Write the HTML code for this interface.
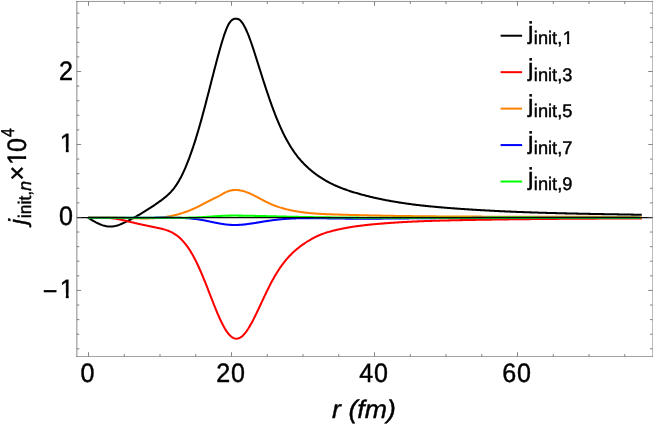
<!DOCTYPE html>
<html><head><meta charset="utf-8"><title>plot</title>
<style>html,body{margin:0;padding:0;background:#fff}body{width:661px;height:424px;overflow:hidden;font-family:"Liberation Sans",sans-serif}svg{will-change:transform}svg text{text-rendering:geometricPrecision}</style>
</head><body>
<svg width="661" height="424" viewBox="0 0 661 424" style="display:block">
<defs><clipPath id="c1_26_7" clipPathUnits="userSpaceOnUse"><rect x="-26.70" y="-26.70" width="80.10" height="21.36"/><rect x="6.40" y="-6.67" width="2.98" height="6.97"/></clipPath><clipPath id="c1_18_2" clipPathUnits="userSpaceOnUse"><rect x="-18.20" y="-18.20" width="54.60" height="14.56"/><rect x="4.27" y="-4.55" width="2.22" height="4.85"/></clipPath></defs><rect x="0" y="0" width="661" height="424" fill="#ffffff"/>
<g fill="none" stroke-width="2.05" stroke-linejoin="round" stroke-linecap="butt">
<path d="M88.00,217.70 L88.79,218.19 L89.58,218.68 L90.38,219.16 L91.17,219.64 L91.96,220.11 L92.75,220.57 L93.55,221.02 L94.34,221.47 L95.13,221.90 L95.92,222.33 L96.72,222.73 L97.51,223.13 L98.30,223.51 L99.09,223.87 L99.88,224.22 L100.68,224.54 L101.47,224.85 L102.26,225.13 L103.05,225.40 L103.85,225.64 L104.64,225.85 L105.43,226.05 L106.22,226.21 L107.01,226.35 L107.81,226.46 L108.60,226.53 L109.39,226.58 L110.18,226.60 L110.98,226.58 L111.77,226.53 L112.56,226.45 L113.35,226.35 L114.15,226.21 L114.94,226.05 L115.73,225.87 L116.52,225.66 L117.31,225.43 L118.11,225.18 L118.90,224.91 L119.69,224.62 L120.48,224.31 L121.28,223.99 L122.07,223.65 L122.86,223.30 L123.65,222.94 L124.44,222.57 L125.24,222.19 L126.03,221.80 L126.82,221.40 L127.61,221.00 L128.41,220.59 L129.20,220.18 L129.99,219.77 L130.78,219.35 L131.58,218.93 L132.37,218.51 L133.16,218.08 L133.95,217.65 L134.74,217.22 L135.54,216.78 L136.33,216.34 L137.12,215.89 L137.91,215.44 L138.71,214.99 L139.50,214.53 L140.29,214.07 L141.08,213.60 L141.87,213.13 L142.67,212.66 L143.46,212.18 L144.25,211.70 L145.04,211.21 L145.84,210.72 L146.63,210.23 L147.42,209.73 L148.21,209.23 L149.01,208.72 L149.80,208.21 L150.59,207.69 L151.38,207.17 L152.17,206.64 L152.97,206.11 L153.76,205.58 L154.55,205.04 L155.34,204.49 L156.14,203.94 L156.93,203.39 L157.72,202.83 L158.51,202.27 L159.30,201.70 L160.10,201.13 L160.89,200.55 L161.68,199.96 L162.47,199.37 L163.27,198.77 L164.06,198.15 L164.85,197.52 L165.64,196.87 L166.44,196.19 L167.23,195.50 L168.02,194.78 L168.81,194.03 L169.60,193.25 L170.40,192.43 L171.19,191.58 L171.98,190.69 L172.77,189.76 L173.57,188.78 L174.36,187.76 L175.15,186.69 L175.94,185.57 L176.73,184.40 L177.53,183.17 L178.32,181.88 L179.11,180.53 L179.90,179.12 L180.70,177.64 L181.49,176.11 L182.28,174.51 L183.07,172.86 L183.87,171.15 L184.66,169.38 L185.45,167.55 L186.24,165.66 L187.03,163.72 L187.83,161.72 L188.62,159.67 L189.41,157.56 L190.20,155.40 L191.00,153.18 L191.79,150.92 L192.58,148.60 L193.37,146.23 L194.16,143.81 L194.96,141.34 L195.75,138.82 L196.54,136.25 L197.33,133.64 L198.13,130.97 L198.92,128.26 L199.71,125.51 L200.50,122.71 L201.30,119.87 L202.09,116.99 L202.88,114.08 L203.67,111.13 L204.46,108.15 L205.26,105.15 L206.05,102.13 L206.84,99.09 L207.63,96.03 L208.43,92.96 L209.22,89.88 L210.01,86.79 L210.80,83.70 L211.59,80.60 L212.39,77.51 L213.18,74.42 L213.97,71.35 L214.76,68.29 L215.56,65.24 L216.35,62.23 L217.14,59.24 L217.93,56.29 L218.73,53.38 L219.52,50.52 L220.31,47.71 L221.10,44.96 L221.89,42.28 L222.69,39.68 L223.48,37.19 L224.27,34.80 L225.06,32.54 L225.86,30.43 L226.65,28.46 L227.44,26.66 L228.23,25.05 L229.02,23.62 L229.82,22.41 L230.61,21.39 L231.40,20.57 L232.19,19.91 L232.99,19.41 L233.78,19.06 L234.57,18.83 L235.36,18.71 L236.16,18.69 L236.95,18.76 L237.74,18.93 L238.53,19.24 L239.32,19.68 L240.12,20.29 L240.91,21.07 L241.70,22.00 L242.49,23.08 L243.29,24.30 L244.08,25.66 L244.87,27.15 L245.66,28.75 L246.45,30.47 L247.25,32.30 L248.04,34.22 L248.83,36.23 L249.62,38.33 L250.42,40.50 L251.21,42.74 L252.00,45.04 L252.79,47.40 L253.59,49.80 L254.38,52.23 L255.17,54.70 L255.96,57.19 L256.75,59.70 L257.55,62.22 L258.34,64.74 L259.13,67.25 L259.92,69.76 L260.72,72.27 L261.51,74.77 L262.30,77.25 L263.09,79.73 L263.88,82.19 L264.68,84.63 L265.47,87.06 L266.26,89.46 L267.05,91.85 L267.85,94.20 L268.64,96.53 L269.43,98.84 L270.22,101.11 L271.02,103.35 L271.81,105.55 L272.60,107.72 L273.39,109.86 L274.18,111.96 L274.98,114.02 L275.77,116.04 L276.56,118.03 L277.35,119.98 L278.15,121.89 L278.94,123.76 L279.73,125.58 L280.52,127.37 L281.32,129.12 L282.11,130.82 L282.90,132.48 L283.69,134.10 L284.48,135.68 L285.28,137.22 L286.07,138.72 L286.86,140.18 L287.65,141.60 L288.45,142.99 L289.24,144.34 L290.03,145.66 L290.82,146.94 L291.61,148.18 L292.41,149.40 L293.20,150.58 L293.99,151.73 L294.78,152.86 L295.58,153.95 L296.37,155.01 L297.16,156.04 L297.95,157.05 L298.75,158.03 L299.54,158.98 L300.33,159.91 L301.12,160.82 L301.91,161.70 L302.71,162.56 L303.50,163.39 L304.29,164.21 L305.08,165.00 L305.88,165.78 L306.67,166.53 L307.46,167.27 L308.25,167.99 L309.04,168.70 L309.84,169.38 L310.63,170.06 L311.42,170.72 L312.21,171.36 L313.01,171.99 L313.80,172.61 L314.59,173.22 L315.38,173.82 L316.18,174.40 L316.97,174.98 L317.76,175.54 L318.55,176.09 L319.34,176.63 L320.14,177.16 L320.93,177.68 L321.72,178.19 L322.51,178.69 L323.31,179.18 L324.10,179.66 L324.89,180.13 L325.68,180.59 L326.47,181.04 L327.27,181.48 L328.06,181.92 L328.85,182.34 L329.64,182.76 L330.44,183.17 L331.23,183.56 L332.02,183.96 L332.81,184.34 L333.61,184.72 L334.40,185.08 L335.19,185.45 L335.98,185.80 L336.77,186.15 L337.57,186.49 L338.36,186.82 L339.15,187.15 L339.94,187.47 L340.74,187.79 L341.53,188.10 L342.32,188.40 L343.11,188.70 L343.90,188.99 L344.70,189.28 L345.49,189.56 L346.28,189.84 L347.07,190.11 L347.87,190.38 L348.66,190.65 L349.45,190.91 L350.24,191.17 L351.04,191.42 L351.83,191.67 L352.62,191.91 L353.41,192.16 L354.20,192.40 L355.00,192.63 L355.79,192.87 L356.58,193.10 L357.37,193.33 L358.17,193.56 L358.96,193.78 L359.75,194.01 L360.54,194.23 L361.33,194.44 L362.13,194.66 L362.92,194.87 L363.71,195.08 L364.50,195.29 L365.30,195.50 L366.09,195.70 L366.88,195.91 L367.67,196.11 L368.47,196.30 L369.26,196.50 L370.05,196.69 L370.84,196.88 L371.63,197.07 L372.43,197.26 L373.22,197.45 L374.01,197.63 L374.80,197.81 L375.60,197.99 L376.39,198.17 L377.18,198.34 L377.97,198.51 L378.76,198.68 L379.56,198.85 L380.35,199.02 L381.14,199.19 L381.93,199.35 L382.73,199.51 L383.52,199.67 L384.31,199.83 L385.10,199.98 L385.90,200.14 L386.69,200.29 L387.48,200.44 L388.27,200.59 L389.06,200.74 L389.86,200.88 L390.65,201.02 L391.44,201.17 L392.23,201.31 L393.03,201.44 L393.82,201.58 L394.61,201.72 L395.40,201.85 L396.19,201.98 L396.99,202.11 L397.78,202.24 L398.57,202.37 L399.36,202.49 L400.16,202.62 L400.95,202.74 L401.74,202.86 L402.53,202.98 L403.33,203.10 L404.12,203.22 L404.91,203.33 L405.70,203.45 L406.49,203.56 L407.29,203.67 L408.08,203.78 L408.87,203.89 L409.66,203.99 L410.46,204.10 L411.25,204.21 L412.04,204.31 L412.83,204.41 L413.62,204.51 L414.42,204.61 L415.21,204.71 L416.00,204.81 L416.79,204.90 L417.59,205.00 L418.38,205.09 L419.17,205.18 L419.96,205.27 L420.76,205.37 L421.55,205.45 L422.34,205.54 L423.13,205.63 L423.92,205.72 L424.72,205.80 L425.51,205.88 L426.30,205.97 L427.09,206.05 L427.89,206.13 L428.68,206.21 L429.47,206.29 L430.26,206.37 L431.05,206.45 L431.85,206.52 L432.64,206.60 L433.43,206.67 L434.22,206.75 L435.02,206.82 L435.81,206.89 L436.60,206.97 L437.39,207.04 L438.19,207.11 L438.98,207.18 L439.77,207.25 L440.56,207.32 L441.35,207.38 L442.15,207.45 L442.94,207.52 L443.73,207.58 L444.52,207.65 L445.32,207.71 L446.11,207.78 L446.90,207.84 L447.69,207.90 L448.48,207.96 L449.28,208.03 L450.07,208.09 L450.86,208.15 L451.65,208.21 L452.45,208.27 L453.24,208.33 L454.03,208.39 L454.82,208.45 L455.62,208.50 L456.41,208.56 L457.20,208.62 L457.99,208.68 L458.78,208.73 L459.58,208.79 L460.37,208.84 L461.16,208.90 L461.95,208.95 L462.75,209.01 L463.54,209.06 L464.33,209.12 L465.12,209.17 L465.92,209.22 L466.71,209.28 L467.50,209.33 L468.29,209.38 L469.08,209.43 L469.88,209.48 L470.67,209.53 L471.46,209.58 L472.25,209.63 L473.05,209.68 L473.84,209.73 L474.63,209.78 L475.42,209.83 L476.21,209.87 L477.01,209.92 L477.80,209.97 L478.59,210.02 L479.38,210.06 L480.18,210.11 L480.97,210.15 L481.76,210.20 L482.55,210.24 L483.35,210.29 L484.14,210.33 L484.93,210.38 L485.72,210.42 L486.51,210.46 L487.31,210.51 L488.10,210.55 L488.89,210.59 L489.68,210.63 L490.48,210.67 L491.27,210.72 L492.06,210.76 L492.85,210.80 L493.64,210.84 L494.44,210.88 L495.23,210.92 L496.02,210.96 L496.81,210.99 L497.61,211.03 L498.40,211.07 L499.19,211.11 L499.98,211.15 L500.78,211.18 L501.57,211.22 L502.36,211.26 L503.15,211.29 L503.94,211.33 L504.74,211.37 L505.53,211.40 L506.32,211.44 L507.11,211.47 L507.91,211.51 L508.70,211.54 L509.49,211.57 L510.28,211.61 L511.07,211.64 L511.87,211.67 L512.66,211.71 L513.45,211.74 L514.24,211.77 L515.04,211.80 L515.83,211.84 L516.62,211.87 L517.41,211.90 L518.21,211.93 L519.00,211.96 L519.79,211.99 L520.58,212.02 L521.37,212.05 L522.17,212.08 L522.96,212.11 L523.75,212.14 L524.54,212.17 L525.34,212.20 L526.13,212.23 L526.92,212.25 L527.71,212.28 L528.50,212.31 L529.30,212.34 L530.09,212.36 L530.88,212.39 L531.67,212.42 L532.47,212.44 L533.26,212.47 L534.05,212.50 L534.84,212.52 L535.64,212.55 L536.43,212.57 L537.22,212.60 L538.01,212.62 L538.80,212.65 L539.60,212.67 L540.39,212.70 L541.18,212.72 L541.97,212.74 L542.77,212.77 L543.56,212.79 L544.35,212.82 L545.14,212.84 L545.93,212.86 L546.73,212.88 L547.52,212.91 L548.31,212.93 L549.10,212.95 L549.90,212.97 L550.69,212.99 L551.48,213.02 L552.27,213.04 L553.07,213.06 L553.86,213.08 L554.65,213.10 L555.44,213.12 L556.23,213.14 L557.03,213.16 L557.82,213.18 L558.61,213.20 L559.40,213.22 L560.20,213.24 L560.99,213.26 L561.78,213.28 L562.57,213.30 L563.36,213.32 L564.16,213.34 L564.95,213.36 L565.74,213.37 L566.53,213.39 L567.33,213.41 L568.12,213.43 L568.91,213.45 L569.70,213.47 L570.50,213.48 L571.29,213.50 L572.08,213.52 L572.87,213.54 L573.66,213.55 L574.46,213.57 L575.25,213.59 L576.04,213.60 L576.83,213.62 L577.63,213.64 L578.42,213.65 L579.21,213.67 L580.00,213.69 L580.79,213.70 L581.59,213.72 L582.38,213.74 L583.17,213.75 L583.96,213.77 L584.76,213.78 L585.55,213.80 L586.34,213.81 L587.13,213.83 L587.93,213.84 L588.72,213.86 L589.51,213.87 L590.30,213.89 L591.09,213.90 L591.89,213.92 L592.68,213.93 L593.47,213.95 L594.26,213.96 L595.06,213.98 L595.85,213.99 L596.64,214.01 L597.43,214.02 L598.22,214.04 L599.02,214.05 L599.81,214.06 L600.60,214.08 L601.39,214.09 L602.19,214.11 L602.98,214.12 L603.77,214.13 L604.56,214.15 L605.36,214.16 L606.15,214.18 L606.94,214.19 L607.73,214.20 L608.52,214.22 L609.32,214.23 L610.11,214.24 L610.90,214.26 L611.69,214.27 L612.49,214.29 L613.28,214.30 L614.07,214.31 L614.86,214.33 L615.65,214.34 L616.45,214.35 L617.24,214.37 L618.03,214.38 L618.82,214.39 L619.62,214.41 L620.41,214.42 L621.20,214.43 L621.99,214.45 L622.79,214.46 L623.58,214.47 L624.37,214.49 L625.16,214.50 L625.95,214.51 L626.75,214.53 L627.54,214.54 L628.33,214.55 L629.12,214.57 L629.92,214.58 L630.71,214.59 L631.50,214.61 L632.29,214.62 L633.08,214.63 L633.88,214.65 L634.67,214.66 L635.46,214.67 L636.25,214.69 L637.05,214.70 L637.84,214.71 L638.63,214.73 L639.42,214.74 L640.22,214.76 L641.01,214.77 L641.80,214.78" stroke="#000000"/>
<path d="M88.00,217.70 L88.79,217.71 L89.58,217.72 L90.38,217.73 L91.17,217.73 L91.96,217.73 L92.75,217.73 L93.55,217.72 L94.34,217.72 L95.13,217.71 L95.92,217.71 L96.72,217.70 L97.51,217.69 L98.30,217.69 L99.09,217.68 L99.88,217.68 L100.68,217.68 L101.47,217.69 L102.26,217.69 L103.05,217.70 L103.85,217.72 L104.64,217.74 L105.43,217.76 L106.22,217.79 L107.01,217.83 L107.81,217.87 L108.60,217.92 L109.39,217.97 L110.18,218.04 L110.98,218.11 L111.77,218.19 L112.56,218.28 L113.35,218.38 L114.15,218.49 L114.94,218.60 L115.73,218.73 L116.52,218.86 L117.31,219.00 L118.11,219.14 L118.90,219.29 L119.69,219.45 L120.48,219.61 L121.28,219.78 L122.07,219.95 L122.86,220.13 L123.65,220.30 L124.44,220.49 L125.24,220.67 L126.03,220.86 L126.82,221.05 L127.61,221.24 L128.41,221.44 L129.20,221.63 L129.99,221.83 L130.78,222.02 L131.58,222.22 L132.37,222.41 L133.16,222.60 L133.95,222.79 L134.74,222.98 L135.54,223.17 L136.33,223.36 L137.12,223.54 L137.91,223.72 L138.71,223.90 L139.50,224.08 L140.29,224.25 L141.08,224.43 L141.87,224.60 L142.67,224.77 L143.46,224.94 L144.25,225.11 L145.04,225.28 L145.84,225.45 L146.63,225.61 L147.42,225.78 L148.21,225.94 L149.01,226.11 L149.80,226.27 L150.59,226.43 L151.38,226.59 L152.17,226.75 L152.97,226.92 L153.76,227.08 L154.55,227.24 L155.34,227.40 L156.14,227.56 L156.93,227.72 L157.72,227.89 L158.51,228.05 L159.30,228.22 L160.10,228.39 L160.89,228.57 L161.68,228.76 L162.47,228.96 L163.27,229.16 L164.06,229.38 L164.85,229.61 L165.64,229.86 L166.44,230.12 L167.23,230.39 L168.02,230.69 L168.81,231.00 L169.60,231.33 L170.40,231.68 L171.19,232.06 L171.98,232.46 L172.77,232.89 L173.57,233.34 L174.36,233.82 L175.15,234.33 L175.94,234.86 L176.73,235.43 L177.53,236.03 L178.32,236.67 L179.11,237.33 L179.90,238.04 L180.70,238.77 L181.49,239.55 L182.28,240.36 L183.07,241.22 L183.87,242.11 L184.66,243.04 L185.45,244.02 L186.24,245.04 L187.03,246.10 L187.83,247.21 L188.62,248.36 L189.41,249.56 L190.20,250.81 L191.00,252.10 L191.79,253.43 L192.58,254.81 L193.37,256.24 L194.16,257.71 L194.96,259.23 L195.75,260.79 L196.54,262.39 L197.33,264.04 L198.13,265.72 L198.92,267.45 L199.71,269.22 L200.50,271.02 L201.30,272.86 L202.09,274.73 L202.88,276.63 L203.67,278.55 L204.46,280.50 L205.26,282.47 L206.05,284.46 L206.84,286.47 L207.63,288.49 L208.43,290.52 L209.22,292.56 L210.01,294.61 L210.80,296.65 L211.59,298.69 L212.39,300.72 L213.18,302.74 L213.97,304.75 L214.76,306.73 L215.56,308.69 L216.35,310.62 L217.14,312.52 L217.93,314.38 L218.73,316.21 L219.52,317.98 L220.31,319.72 L221.10,321.40 L221.89,323.02 L222.69,324.58 L223.48,326.08 L224.27,327.51 L225.06,328.87 L225.86,330.16 L226.65,331.36 L227.44,332.48 L228.23,333.51 L229.02,334.45 L229.82,335.30 L230.61,336.05 L231.40,336.71 L232.19,337.27 L232.99,337.74 L233.78,338.11 L234.57,338.39 L235.36,338.58 L236.16,338.66 L236.95,338.66 L237.74,338.55 L238.53,338.35 L239.32,338.06 L240.12,337.67 L240.91,337.18 L241.70,336.60 L242.49,335.92 L243.29,335.16 L244.08,334.32 L244.87,333.39 L245.66,332.39 L246.45,331.32 L247.25,330.18 L248.04,328.98 L248.83,327.72 L249.62,326.40 L250.42,325.03 L251.21,323.62 L252.00,322.16 L252.79,320.66 L253.59,319.13 L254.38,317.57 L255.17,315.98 L255.96,314.36 L256.75,312.72 L257.55,311.06 L258.34,309.39 L259.13,307.70 L259.92,306.01 L260.72,304.31 L261.51,302.61 L262.30,300.91 L263.09,299.22 L263.88,297.54 L264.68,295.86 L265.47,294.20 L266.26,292.55 L267.05,290.92 L267.85,289.30 L268.64,287.71 L269.43,286.13 L270.22,284.58 L271.02,283.05 L271.81,281.55 L272.60,280.08 L273.39,278.64 L274.18,277.23 L274.98,275.85 L275.77,274.51 L276.56,273.20 L277.35,271.93 L278.15,270.68 L278.94,269.47 L279.73,268.29 L280.52,267.14 L281.32,266.02 L282.11,264.93 L282.90,263.87 L283.69,262.83 L284.48,261.83 L285.28,260.84 L286.07,259.89 L286.86,258.96 L287.65,258.05 L288.45,257.17 L289.24,256.31 L290.03,255.47 L290.82,254.66 L291.61,253.87 L292.41,253.09 L293.20,252.34 L293.99,251.61 L294.78,250.89 L295.58,250.20 L296.37,249.52 L297.16,248.86 L297.95,248.21 L298.75,247.58 L299.54,246.96 L300.33,246.36 L301.12,245.77 L301.91,245.20 L302.71,244.64 L303.50,244.09 L304.29,243.55 L305.08,243.02 L305.88,242.50 L306.67,241.99 L307.46,241.49 L308.25,241.00 L309.04,240.51 L309.84,240.04 L310.63,239.57 L311.42,239.12 L312.21,238.67 L313.01,238.24 L313.80,237.82 L314.59,237.40 L315.38,237.01 L316.18,236.62 L316.97,236.25 L317.76,235.88 L318.55,235.53 L319.34,235.20 L320.14,234.87 L320.93,234.55 L321.72,234.24 L322.51,233.95 L323.31,233.66 L324.10,233.38 L324.89,233.11 L325.68,232.85 L326.47,232.60 L327.27,232.35 L328.06,232.11 L328.85,231.88 L329.64,231.66 L330.44,231.44 L331.23,231.23 L332.02,231.02 L332.81,230.81 L333.61,230.62 L334.40,230.42 L335.19,230.23 L335.98,230.04 L336.77,229.86 L337.57,229.68 L338.36,229.50 L339.15,229.33 L339.94,229.16 L340.74,228.99 L341.53,228.83 L342.32,228.67 L343.11,228.51 L343.90,228.35 L344.70,228.20 L345.49,228.05 L346.28,227.91 L347.07,227.76 L347.87,227.62 L348.66,227.48 L349.45,227.35 L350.24,227.22 L351.04,227.09 L351.83,226.96 L352.62,226.84 L353.41,226.71 L354.20,226.59 L355.00,226.48 L355.79,226.36 L356.58,226.25 L357.37,226.14 L358.17,226.03 L358.96,225.92 L359.75,225.82 L360.54,225.72 L361.33,225.61 L362.13,225.52 L362.92,225.42 L363.71,225.33 L364.50,225.23 L365.30,225.14 L366.09,225.05 L366.88,224.96 L367.67,224.88 L368.47,224.79 L369.26,224.71 L370.05,224.63 L370.84,224.55 L371.63,224.47 L372.43,224.39 L373.22,224.32 L374.01,224.24 L374.80,224.17 L375.60,224.10 L376.39,224.03 L377.18,223.96 L377.97,223.89 L378.76,223.82 L379.56,223.75 L380.35,223.68 L381.14,223.62 L381.93,223.55 L382.73,223.49 L383.52,223.43 L384.31,223.36 L385.10,223.30 L385.90,223.24 L386.69,223.18 L387.48,223.12 L388.27,223.06 L389.06,223.01 L389.86,222.95 L390.65,222.89 L391.44,222.84 L392.23,222.78 L393.03,222.73 L393.82,222.68 L394.61,222.62 L395.40,222.57 L396.19,222.52 L396.99,222.47 L397.78,222.42 L398.57,222.37 L399.36,222.32 L400.16,222.28 L400.95,222.23 L401.74,222.18 L402.53,222.14 L403.33,222.09 L404.12,222.05 L404.91,222.01 L405.70,221.96 L406.49,221.92 L407.29,221.88 L408.08,221.84 L408.87,221.80 L409.66,221.76 L410.46,221.72 L411.25,221.68 L412.04,221.64 L412.83,221.60 L413.62,221.57 L414.42,221.53 L415.21,221.49 L416.00,221.46 L416.79,221.42 L417.59,221.39 L418.38,221.36 L419.17,221.32 L419.96,221.29 L420.76,221.26 L421.55,221.23 L422.34,221.20 L423.13,221.16 L423.92,221.13 L424.72,221.10 L425.51,221.08 L426.30,221.05 L427.09,221.02 L427.89,220.99 L428.68,220.96 L429.47,220.93 L430.26,220.91 L431.05,220.88 L431.85,220.86 L432.64,220.83 L433.43,220.81 L434.22,220.78 L435.02,220.76 L435.81,220.73 L436.60,220.71 L437.39,220.69 L438.19,220.66 L438.98,220.64 L439.77,220.62 L440.56,220.60 L441.35,220.57 L442.15,220.55 L442.94,220.53 L443.73,220.51 L444.52,220.49 L445.32,220.47 L446.11,220.45 L446.90,220.43 L447.69,220.41 L448.48,220.39 L449.28,220.38 L450.07,220.36 L450.86,220.34 L451.65,220.32 L452.45,220.30 L453.24,220.29 L454.03,220.27 L454.82,220.25 L455.62,220.23 L456.41,220.22 L457.20,220.20 L457.99,220.19 L458.78,220.17 L459.58,220.15 L460.37,220.14 L461.16,220.12 L461.95,220.11 L462.75,220.09 L463.54,220.08 L464.33,220.06 L465.12,220.05 L465.92,220.03 L466.71,220.02 L467.50,220.00 L468.29,219.99 L469.08,219.97 L469.88,219.96 L470.67,219.94 L471.46,219.93 L472.25,219.92 L473.05,219.90 L473.84,219.89 L474.63,219.87 L475.42,219.86 L476.21,219.85 L477.01,219.83 L477.80,219.82 L478.59,219.81 L479.38,219.79 L480.18,219.78 L480.97,219.77 L481.76,219.75 L482.55,219.74 L483.35,219.73 L484.14,219.72 L484.93,219.70 L485.72,219.69 L486.51,219.68 L487.31,219.67 L488.10,219.65 L488.89,219.64 L489.68,219.63 L490.48,219.62 L491.27,219.61 L492.06,219.59 L492.85,219.58 L493.64,219.57 L494.44,219.56 L495.23,219.55 L496.02,219.54 L496.81,219.52 L497.61,219.51 L498.40,219.50 L499.19,219.49 L499.98,219.48 L500.78,219.47 L501.57,219.46 L502.36,219.45 L503.15,219.44 L503.94,219.42 L504.74,219.41 L505.53,219.40 L506.32,219.39 L507.11,219.38 L507.91,219.37 L508.70,219.36 L509.49,219.35 L510.28,219.34 L511.07,219.33 L511.87,219.32 L512.66,219.31 L513.45,219.30 L514.24,219.29 L515.04,219.28 L515.83,219.27 L516.62,219.26 L517.41,219.25 L518.21,219.24 L519.00,219.23 L519.79,219.23 L520.58,219.22 L521.37,219.21 L522.17,219.20 L522.96,219.19 L523.75,219.18 L524.54,219.17 L525.34,219.16 L526.13,219.15 L526.92,219.14 L527.71,219.14 L528.50,219.13 L529.30,219.12 L530.09,219.11 L530.88,219.10 L531.67,219.09 L532.47,219.09 L533.26,219.08 L534.05,219.07 L534.84,219.06 L535.64,219.05 L536.43,219.05 L537.22,219.04 L538.01,219.03 L538.80,219.02 L539.60,219.01 L540.39,219.01 L541.18,219.00 L541.97,218.99 L542.77,218.98 L543.56,218.98 L544.35,218.97 L545.14,218.96 L545.93,218.96 L546.73,218.95 L547.52,218.94 L548.31,218.93 L549.10,218.93 L549.90,218.92 L550.69,218.91 L551.48,218.91 L552.27,218.90 L553.07,218.89 L553.86,218.89 L554.65,218.88 L555.44,218.87 L556.23,218.87 L557.03,218.86 L557.82,218.85 L558.61,218.85 L559.40,218.84 L560.20,218.83 L560.99,218.83 L561.78,218.82 L562.57,218.82 L563.36,218.81 L564.16,218.80 L564.95,218.80 L565.74,218.79 L566.53,218.79 L567.33,218.78 L568.12,218.77 L568.91,218.77 L569.70,218.76 L570.50,218.76 L571.29,218.75 L572.08,218.75 L572.87,218.74 L573.66,218.74 L574.46,218.73 L575.25,218.72 L576.04,218.72 L576.83,218.71 L577.63,218.71 L578.42,218.70 L579.21,218.70 L580.00,218.69 L580.79,218.69 L581.59,218.68 L582.38,218.68 L583.17,218.67 L583.96,218.67 L584.76,218.66 L585.55,218.66 L586.34,218.65 L587.13,218.65 L587.93,218.64 L588.72,218.64 L589.51,218.64 L590.30,218.63 L591.09,218.63 L591.89,218.62 L592.68,218.62 L593.47,218.61 L594.26,218.61 L595.06,218.60 L595.85,218.60 L596.64,218.60 L597.43,218.59 L598.22,218.59 L599.02,218.58 L599.81,218.58 L600.60,218.57 L601.39,218.57 L602.19,218.57 L602.98,218.56 L603.77,218.56 L604.56,218.55 L605.36,218.55 L606.15,218.55 L606.94,218.54 L607.73,218.54 L608.52,218.53 L609.32,218.53 L610.11,218.53 L610.90,218.52 L611.69,218.52 L612.49,218.52 L613.28,218.51 L614.07,218.51 L614.86,218.50 L615.65,218.50 L616.45,218.50 L617.24,218.49 L618.03,218.49 L618.82,218.49 L619.62,218.48 L620.41,218.48 L621.20,218.48 L621.99,218.47 L622.79,218.47 L623.58,218.47 L624.37,218.46 L625.16,218.46 L625.95,218.46 L626.75,218.45 L627.54,218.45 L628.33,218.45 L629.12,218.44 L629.92,218.44 L630.71,218.44 L631.50,218.43 L632.29,218.43 L633.08,218.43 L633.88,218.42 L634.67,218.42 L635.46,218.42 L636.25,218.41 L637.05,218.41 L637.84,218.41 L638.63,218.41 L639.42,218.40 L640.22,218.40 L641.01,218.40 L641.80,218.39" stroke="#ff0000"/>
<path d="M88.00,217.75 L88.79,217.78 L89.58,217.81 L90.38,217.83 L91.17,217.85 L91.96,217.86 L92.75,217.87 L93.55,217.87 L94.34,217.88 L95.13,217.87 L95.92,217.87 L96.72,217.86 L97.51,217.85 L98.30,217.84 L99.09,217.83 L99.88,217.81 L100.68,217.80 L101.47,217.78 L102.26,217.76 L103.05,217.75 L103.85,217.73 L104.64,217.71 L105.43,217.69 L106.22,217.67 L107.01,217.66 L107.81,217.64 L108.60,217.63 L109.39,217.62 L110.18,217.61 L110.98,217.60 L111.77,217.60 L112.56,217.60 L113.35,217.60 L114.15,217.60 L114.94,217.61 L115.73,217.62 L116.52,217.63 L117.31,217.65 L118.11,217.66 L118.90,217.68 L119.69,217.70 L120.48,217.72 L121.28,217.74 L122.07,217.77 L122.86,217.79 L123.65,217.82 L124.44,217.85 L125.24,217.88 L126.03,217.91 L126.82,217.93 L127.61,217.96 L128.41,217.99 L129.20,218.02 L129.99,218.05 L130.78,218.08 L131.58,218.11 L132.37,218.14 L133.16,218.17 L133.95,218.20 L134.74,218.22 L135.54,218.25 L136.33,218.27 L137.12,218.29 L137.91,218.31 L138.71,218.33 L139.50,218.35 L140.29,218.36 L141.08,218.38 L141.87,218.39 L142.67,218.40 L143.46,218.40 L144.25,218.41 L145.04,218.41 L145.84,218.40 L146.63,218.40 L147.42,218.39 L148.21,218.38 L149.01,218.36 L149.80,218.34 L150.59,218.32 L151.38,218.29 L152.17,218.26 L152.97,218.22 L153.76,218.18 L154.55,218.14 L155.34,218.09 L156.14,218.04 L156.93,217.98 L157.72,217.91 L158.51,217.84 L159.30,217.77 L160.10,217.69 L160.89,217.60 L161.68,217.51 L162.47,217.42 L163.27,217.32 L164.06,217.21 L164.85,217.10 L165.64,216.98 L166.44,216.86 L167.23,216.73 L168.02,216.59 L168.81,216.45 L169.60,216.31 L170.40,216.15 L171.19,215.99 L171.98,215.83 L172.77,215.66 L173.57,215.48 L174.36,215.30 L175.15,215.11 L175.94,214.91 L176.73,214.71 L177.53,214.50 L178.32,214.29 L179.11,214.06 L179.90,213.84 L180.70,213.60 L181.49,213.36 L182.28,213.11 L183.07,212.85 L183.87,212.59 L184.66,212.32 L185.45,212.04 L186.24,211.76 L187.03,211.47 L187.83,211.17 L188.62,210.87 L189.41,210.55 L190.20,210.23 L191.00,209.90 L191.79,209.57 L192.58,209.23 L193.37,208.88 L194.16,208.52 L194.96,208.15 L195.75,207.78 L196.54,207.40 L197.33,207.01 L198.13,206.62 L198.92,206.22 L199.71,205.82 L200.50,205.42 L201.30,205.01 L202.09,204.60 L202.88,204.18 L203.67,203.77 L204.46,203.35 L205.26,202.94 L206.05,202.52 L206.84,202.10 L207.63,201.69 L208.43,201.28 L209.22,200.87 L210.01,200.47 L210.80,200.07 L211.59,199.67 L212.39,199.28 L213.18,198.89 L213.97,198.51 L214.76,198.12 L215.56,197.74 L216.35,197.35 L217.14,196.95 L217.93,196.55 L218.73,196.14 L219.52,195.71 L220.31,195.28 L221.10,194.83 L221.89,194.36 L222.69,193.90 L223.48,193.44 L224.27,192.99 L225.06,192.57 L225.86,192.19 L226.65,191.83 L227.44,191.51 L228.23,191.23 L229.02,190.97 L229.82,190.74 L230.61,190.55 L231.40,190.38 L232.19,190.25 L232.99,190.14 L233.78,190.06 L234.57,190.01 L235.36,189.99 L236.16,189.99 L236.95,190.02 L237.74,190.08 L238.53,190.16 L239.32,190.26 L240.12,190.39 L240.91,190.53 L241.70,190.71 L242.49,190.90 L243.29,191.11 L244.08,191.34 L244.87,191.59 L245.66,191.85 L246.45,192.14 L247.25,192.44 L248.04,192.75 L248.83,193.07 L249.62,193.41 L250.42,193.76 L251.21,194.12 L252.00,194.50 L252.79,194.88 L253.59,195.27 L254.38,195.66 L255.17,196.06 L255.96,196.47 L256.75,196.88 L257.55,197.30 L258.34,197.72 L259.13,198.14 L259.92,198.56 L260.72,198.98 L261.51,199.40 L262.30,199.82 L263.09,200.24 L263.88,200.65 L264.68,201.07 L265.47,201.47 L266.26,201.88 L267.05,202.27 L267.85,202.66 L268.64,203.04 L269.43,203.42 L270.22,203.78 L271.02,204.14 L271.81,204.48 L272.60,204.81 L273.39,205.14 L274.18,205.45 L274.98,205.75 L275.77,206.05 L276.56,206.33 L277.35,206.61 L278.15,206.88 L278.94,207.14 L279.73,207.39 L280.52,207.63 L281.32,207.87 L282.11,208.10 L282.90,208.33 L283.69,208.55 L284.48,208.76 L285.28,208.97 L286.07,209.17 L286.86,209.37 L287.65,209.56 L288.45,209.74 L289.24,209.93 L290.03,210.10 L290.82,210.27 L291.61,210.44 L292.41,210.60 L293.20,210.75 L293.99,210.91 L294.78,211.05 L295.58,211.20 L296.37,211.33 L297.16,211.47 L297.95,211.60 L298.75,211.72 L299.54,211.84 L300.33,211.96 L301.12,212.08 L301.91,212.19 L302.71,212.29 L303.50,212.39 L304.29,212.49 L305.08,212.59 L305.88,212.68 L306.67,212.77 L307.46,212.85 L308.25,212.94 L309.04,213.01 L309.84,213.09 L310.63,213.16 L311.42,213.23 L312.21,213.30 L313.01,213.37 L313.80,213.43 L314.59,213.49 L315.38,213.55 L316.18,213.60 L316.97,213.66 L317.76,213.71 L318.55,213.76 L319.34,213.80 L320.14,213.85 L320.93,213.89 L321.72,213.94 L322.51,213.98 L323.31,214.01 L324.10,214.05 L324.89,214.09 L325.68,214.12 L326.47,214.16 L327.27,214.19 L328.06,214.22 L328.85,214.25 L329.64,214.28 L330.44,214.31 L331.23,214.34 L332.02,214.36 L332.81,214.39 L333.61,214.42 L334.40,214.44 L335.19,214.47 L335.98,214.49 L336.77,214.52 L337.57,214.54 L338.36,214.57 L339.15,214.59 L339.94,214.62 L340.74,214.64 L341.53,214.67 L342.32,214.69 L343.11,214.72 L343.90,214.74 L344.70,214.76 L345.49,214.79 L346.28,214.81 L347.07,214.83 L347.87,214.85 L348.66,214.88 L349.45,214.90 L350.24,214.92 L351.04,214.94 L351.83,214.96 L352.62,214.99 L353.41,215.01 L354.20,215.03 L355.00,215.05 L355.79,215.07 L356.58,215.09 L357.37,215.11 L358.17,215.13 L358.96,215.15 L359.75,215.17 L360.54,215.19 L361.33,215.21 L362.13,215.23 L362.92,215.25 L363.71,215.27 L364.50,215.29 L365.30,215.31 L366.09,215.33 L366.88,215.34 L367.67,215.36 L368.47,215.38 L369.26,215.40 L370.05,215.42 L370.84,215.43 L371.63,215.45 L372.43,215.47 L373.22,215.49 L374.01,215.50 L374.80,215.52 L375.60,215.54 L376.39,215.55 L377.18,215.57 L377.97,215.58 L378.76,215.60 L379.56,215.62 L380.35,215.63 L381.14,215.65 L381.93,215.66 L382.73,215.68 L383.52,215.69 L384.31,215.71 L385.10,215.72 L385.90,215.74 L386.69,215.75 L387.48,215.77 L388.27,215.78 L389.06,215.79 L389.86,215.81 L390.65,215.82 L391.44,215.84 L392.23,215.85 L393.03,215.86 L393.82,215.88 L394.61,215.89 L395.40,215.90 L396.19,215.91 L396.99,215.93 L397.78,215.94 L398.57,215.95 L399.36,215.96 L400.16,215.98 L400.95,215.99 L401.74,216.00 L402.53,216.01 L403.33,216.02 L404.12,216.03 L404.91,216.05 L405.70,216.06 L406.49,216.07 L407.29,216.08 L408.08,216.09 L408.87,216.10 L409.66,216.11 L410.46,216.12 L411.25,216.13 L412.04,216.14 L412.83,216.15 L413.62,216.16 L414.42,216.17 L415.21,216.18 L416.00,216.19 L416.79,216.20 L417.59,216.21 L418.38,216.22 L419.17,216.23 L419.96,216.24 L420.76,216.24 L421.55,216.25 L422.34,216.26 L423.13,216.27 L423.92,216.28 L424.72,216.29 L425.51,216.29 L426.30,216.30 L427.09,216.31 L427.89,216.32 L428.68,216.33 L429.47,216.33 L430.26,216.34 L431.05,216.35 L431.85,216.36 L432.64,216.36 L433.43,216.37 L434.22,216.38 L435.02,216.38 L435.81,216.39 L436.60,216.40 L437.39,216.40 L438.19,216.41 L438.98,216.42 L439.77,216.42 L440.56,216.43 L441.35,216.44 L442.15,216.44 L442.94,216.45 L443.73,216.45 L444.52,216.46 L445.32,216.47 L446.11,216.47 L446.90,216.48 L447.69,216.48 L448.48,216.49 L449.28,216.49 L450.07,216.50 L450.86,216.50 L451.65,216.51 L452.45,216.51 L453.24,216.52 L454.03,216.52 L454.82,216.53 L455.62,216.53 L456.41,216.54 L457.20,216.54 L457.99,216.54 L458.78,216.55 L459.58,216.55 L460.37,216.56 L461.16,216.56 L461.95,216.57 L462.75,216.57 L463.54,216.57 L464.33,216.58 L465.12,216.58 L465.92,216.58 L466.71,216.59 L467.50,216.59 L468.29,216.59 L469.08,216.60 L469.88,216.60 L470.67,216.60 L471.46,216.61 L472.25,216.61 L473.05,216.61 L473.84,216.62 L474.63,216.62 L475.42,216.62 L476.21,216.63 L477.01,216.63 L477.80,216.63 L478.59,216.63 L479.38,216.64 L480.18,216.64 L480.97,216.64 L481.76,216.64 L482.55,216.65 L483.35,216.65 L484.14,216.65 L484.93,216.65 L485.72,216.66 L486.51,216.66 L487.31,216.66 L488.10,216.66 L488.89,216.66 L489.68,216.67 L490.48,216.67 L491.27,216.67 L492.06,216.67 L492.85,216.67 L493.64,216.67 L494.44,216.68 L495.23,216.68 L496.02,216.68 L496.81,216.68 L497.61,216.68 L498.40,216.68 L499.19,216.69 L499.98,216.69 L500.78,216.69 L501.57,216.69 L502.36,216.69 L503.15,216.69 L503.94,216.69 L504.74,216.70 L505.53,216.70 L506.32,216.70 L507.11,216.70 L507.91,216.70 L508.70,216.70 L509.49,216.70 L510.28,216.70 L511.07,216.71 L511.87,216.71 L512.66,216.71 L513.45,216.71 L514.24,216.71 L515.04,216.71 L515.83,216.71 L516.62,216.71 L517.41,216.71 L518.21,216.71 L519.00,216.72 L519.79,216.72 L520.58,216.72 L521.37,216.72 L522.17,216.72 L522.96,216.72 L523.75,216.72 L524.54,216.72 L525.34,216.72 L526.13,216.72 L526.92,216.72 L527.71,216.72 L528.50,216.73 L529.30,216.73 L530.09,216.73 L530.88,216.73 L531.67,216.73 L532.47,216.73 L533.26,216.73 L534.05,216.73 L534.84,216.73 L535.64,216.73 L536.43,216.73 L537.22,216.73 L538.01,216.74 L538.80,216.74 L539.60,216.74 L540.39,216.74 L541.18,216.74 L541.97,216.74 L542.77,216.74 L543.56,216.74 L544.35,216.74 L545.14,216.74 L545.93,216.74 L546.73,216.75 L547.52,216.75 L548.31,216.75 L549.10,216.75 L549.90,216.75 L550.69,216.75 L551.48,216.75 L552.27,216.75 L553.07,216.75 L553.86,216.75 L554.65,216.76 L555.44,216.76 L556.23,216.76 L557.03,216.76 L557.82,216.76 L558.61,216.76 L559.40,216.76 L560.20,216.76 L560.99,216.77 L561.78,216.77 L562.57,216.77 L563.36,216.77 L564.16,216.77 L564.95,216.77 L565.74,216.77 L566.53,216.78 L567.33,216.78 L568.12,216.78 L568.91,216.78 L569.70,216.78 L570.50,216.78 L571.29,216.79 L572.08,216.79 L572.87,216.79 L573.66,216.79 L574.46,216.79 L575.25,216.80 L576.04,216.80 L576.83,216.80 L577.63,216.80 L578.42,216.80 L579.21,216.81 L580.00,216.81 L580.79,216.81 L581.59,216.81 L582.38,216.82 L583.17,216.82 L583.96,216.82 L584.76,216.82 L585.55,216.83 L586.34,216.83 L587.13,216.83 L587.93,216.83 L588.72,216.84 L589.51,216.84 L590.30,216.84 L591.09,216.85 L591.89,216.85 L592.68,216.85 L593.47,216.86 L594.26,216.86 L595.06,216.86 L595.85,216.87 L596.64,216.87 L597.43,216.87 L598.22,216.88 L599.02,216.88 L599.81,216.88 L600.60,216.89 L601.39,216.89 L602.19,216.90 L602.98,216.90 L603.77,216.90 L604.56,216.91 L605.36,216.91 L606.15,216.92 L606.94,216.92 L607.73,216.93 L608.52,216.93 L609.32,216.93 L610.11,216.94 L610.90,216.94 L611.69,216.95 L612.49,216.95 L613.28,216.96 L614.07,216.96 L614.86,216.97 L615.65,216.97 L616.45,216.98 L617.24,216.99 L618.03,216.99 L618.82,217.00 L619.62,217.00 L620.41,217.01 L621.20,217.01 L621.99,217.02 L622.79,217.03 L623.58,217.03 L624.37,217.04 L625.16,217.05 L625.95,217.05 L626.75,217.06 L627.54,217.06 L628.33,217.07 L629.12,217.08 L629.92,217.09 L630.71,217.09 L631.50,217.10 L632.29,217.11 L633.08,217.11 L633.88,217.12 L634.67,217.13 L635.46,217.14 L636.25,217.14 L637.05,217.15 L637.84,217.16 L638.63,217.17 L639.42,217.18 L640.22,217.19 L641.01,217.19 L641.80,217.20" stroke="#ff8000"/>
<path d="M88.00,217.70 L88.79,217.70 L89.58,217.69 L90.37,217.69 L91.16,217.68 L91.95,217.68 L92.74,217.68 L93.53,217.67 L94.32,217.67 L95.11,217.67 L95.90,217.67 L96.69,217.67 L97.48,217.67 L98.27,217.67 L99.06,217.67 L99.85,217.67 L100.64,217.67 L101.42,217.67 L102.21,217.67 L103.00,217.67 L103.79,217.67 L104.58,217.67 L105.37,217.67 L106.16,217.67 L106.95,217.68 L107.74,217.68 L108.53,217.68 L109.32,217.68 L110.11,217.68 L110.90,217.69 L111.69,217.69 L112.48,217.69 L113.27,217.70 L114.06,217.70 L114.85,217.70 L115.64,217.70 L116.43,217.71 L117.22,217.71 L118.01,217.71 L118.80,217.71 L119.59,217.72 L120.38,217.72 L121.17,217.72 L121.96,217.73 L122.75,217.73 L123.54,217.73 L124.33,217.73 L125.12,217.73 L125.91,217.74 L126.70,217.74 L127.48,217.74 L128.27,217.74 L129.06,217.74 L129.85,217.74 L130.64,217.74 L131.43,217.75 L132.22,217.75 L133.01,217.75 L133.80,217.75 L134.59,217.75 L135.38,217.75 L136.17,217.74 L136.96,217.74 L137.75,217.74 L138.54,217.74 L139.33,217.74 L140.12,217.74 L140.91,217.73 L141.70,217.73 L142.49,217.73 L143.28,217.72 L144.07,217.72 L144.86,217.71 L145.65,217.71 L146.44,217.70 L147.23,217.70 L148.02,217.69 L148.81,217.69 L149.60,217.68 L150.39,217.68 L151.18,217.67 L151.97,217.67 L152.76,217.66 L153.55,217.65 L154.33,217.65 L155.12,217.64 L155.91,217.64 L156.70,217.64 L157.49,217.63 L158.28,217.63 L159.07,217.62 L159.86,217.62 L160.65,217.62 L161.44,217.62 L162.23,217.62 L163.02,217.61 L163.81,217.61 L164.60,217.61 L165.39,217.62 L166.18,217.62 L166.97,217.62 L167.76,217.62 L168.55,217.63 L169.34,217.63 L170.13,217.64 L170.92,217.65 L171.71,217.65 L172.50,217.66 L173.29,217.67 L174.08,217.69 L174.87,217.70 L175.66,217.72 L176.45,217.73 L177.24,217.75 L178.03,217.78 L178.82,217.80 L179.61,217.83 L180.39,217.85 L181.18,217.88 L181.97,217.92 L182.76,217.95 L183.55,217.99 L184.34,218.03 L185.13,218.08 L185.92,218.13 L186.71,218.18 L187.50,218.23 L188.29,218.29 L189.08,218.35 L189.87,218.42 L190.66,218.49 L191.45,218.56 L192.24,218.64 L193.03,218.72 L193.82,218.80 L194.61,218.89 L195.40,218.98 L196.19,219.08 L196.98,219.19 L197.77,219.29 L198.56,219.41 L199.35,219.52 L200.14,219.65 L200.93,219.78 L201.72,219.91 L202.51,220.05 L203.30,220.19 L204.09,220.34 L204.88,220.49 L205.67,220.65 L206.45,220.81 L207.24,220.97 L208.03,221.13 L208.82,221.30 L209.61,221.47 L210.40,221.63 L211.19,221.80 L211.98,221.97 L212.77,222.14 L213.56,222.31 L214.35,222.47 L215.14,222.64 L215.93,222.80 L216.72,222.96 L217.51,223.12 L218.30,223.27 L219.09,223.42 L219.88,223.56 L220.67,223.70 L221.46,223.83 L222.25,223.96 L223.04,224.08 L223.83,224.20 L224.62,224.30 L225.41,224.40 L226.20,224.50 L226.99,224.58 L227.78,224.66 L228.57,224.72 L229.36,224.78 L230.15,224.84 L230.94,224.88 L231.73,224.92 L232.52,224.94 L233.30,224.97 L234.09,224.98 L234.88,224.98 L235.67,224.98 L236.46,224.97 L237.25,224.95 L238.04,224.93 L238.83,224.89 L239.62,224.85 L240.41,224.80 L241.20,224.75 L241.99,224.68 L242.78,224.61 L243.57,224.54 L244.36,224.45 L245.15,224.36 L245.94,224.27 L246.73,224.17 L247.52,224.07 L248.31,223.96 L249.10,223.85 L249.89,223.74 L250.68,223.62 L251.47,223.50 L252.26,223.38 L253.05,223.26 L253.84,223.14 L254.63,223.01 L255.42,222.89 L256.21,222.76 L257.00,222.63 L257.79,222.51 L258.58,222.38 L259.36,222.25 L260.15,222.12 L260.94,221.99 L261.73,221.87 L262.52,221.74 L263.31,221.61 L264.10,221.49 L264.89,221.36 L265.68,221.24 L266.47,221.12 L267.26,220.99 L268.05,220.88 L268.84,220.76 L269.63,220.64 L270.42,220.53 L271.21,220.42 L272.00,220.31 L272.79,220.20 L273.58,220.10 L274.37,220.00 L275.16,219.90 L275.95,219.81 L276.74,219.72 L277.53,219.63 L278.32,219.55 L279.11,219.47 L279.90,219.39 L280.69,219.31 L281.48,219.24 L282.27,219.17 L283.06,219.10 L283.85,219.04 L284.64,218.98 L285.42,218.92 L286.21,218.86 L287.00,218.81 L287.79,218.76 L288.58,218.71 L289.37,218.67 L290.16,218.62 L290.95,218.58 L291.74,218.54 L292.53,218.51 L293.32,218.47 L294.11,218.44 L294.90,218.41 L295.69,218.38 L296.48,218.35 L297.27,218.33 L298.06,218.31 L298.85,218.29 L299.64,218.27 L300.43,218.25 L301.22,218.23 L302.01,218.22 L302.80,218.21 L303.59,218.20 L304.38,218.19 L305.17,218.18 L305.96,218.17 L306.75,218.17 L307.54,218.17 L308.33,218.16 L309.12,218.16 L309.91,218.16 L310.70,218.16 L311.48,218.17 L312.27,218.17 L313.06,218.17 L313.85,218.18 L314.64,218.18 L315.43,218.19 L316.22,218.20 L317.01,218.21 L317.80,218.22 L318.59,218.23 L319.38,218.24 L320.17,218.25 L320.96,218.26 L321.75,218.27 L322.54,218.28 L323.33,218.29 L324.12,218.31 L324.91,218.32 L325.70,218.33 L326.49,218.35 L327.28,218.36 L328.07,218.37 L328.86,218.39 L329.65,218.40 L330.44,218.41 L331.23,218.43 L332.02,218.44 L332.81,218.45 L333.60,218.47 L334.39,218.48 L335.18,218.49 L335.97,218.50 L336.76,218.51 L337.55,218.52 L338.33,218.53 L339.12,218.54 L339.91,218.55 L340.70,218.56 L341.49,218.57 L342.28,218.58 L343.07,218.59 L343.86,218.59 L344.65,218.60 L345.44,218.61 L346.23,218.61 L347.02,218.62 L347.81,218.63 L348.60,218.63 L349.39,218.64 L350.18,218.64 L350.97,218.65 L351.76,218.65 L352.55,218.65 L353.34,218.66 L354.13,218.66 L354.92,218.66 L355.71,218.67 L356.50,218.67 L357.29,218.67 L358.08,218.67 L358.87,218.67 L359.66,218.67 L360.45,218.67 L361.24,218.67 L362.03,218.67 L362.82,218.67 L363.61,218.67 L364.39,218.67 L365.18,218.67 L365.97,218.67 L366.76,218.67 L367.55,218.67 L368.34,218.67 L369.13,218.66 L369.92,218.66 L370.71,218.66 L371.50,218.66 L372.29,218.65 L373.08,218.65 L373.87,218.65 L374.66,218.64 L375.45,218.64 L376.24,218.64 L377.03,218.63 L377.82,218.63 L378.61,218.62 L379.40,218.62 L380.19,218.61 L380.98,218.61 L381.77,218.60 L382.56,218.60 L383.35,218.59 L384.14,218.59 L384.93,218.58 L385.72,218.57 L386.51,218.57 L387.30,218.56 L388.09,218.56 L388.88,218.55 L389.67,218.54 L390.45,218.54 L391.24,218.53 L392.03,218.52 L392.82,218.52 L393.61,218.51 L394.40,218.50 L395.19,218.49 L395.98,218.49 L396.77,218.48 L397.56,218.47 L398.35,218.46 L399.14,218.46 L399.93,218.45 L400.72,218.44 L401.51,218.43 L402.30,218.42 L403.09,218.42 L403.88,218.41 L404.67,218.40 L405.46,218.39 L406.25,218.39 L407.04,218.38 L407.83,218.37 L408.62,218.36 L409.41,218.35 L410.20,218.34 L410.99,218.34 L411.78,218.33 L412.57,218.32 L413.36,218.31 L414.15,218.30 L414.94,218.30 L415.73,218.29 L416.52,218.28 L417.30,218.27 L418.09,218.26 L418.88,218.26 L419.67,218.25 L420.46,218.24 L421.25,218.23 L422.04,218.23 L422.83,218.22 L423.62,218.21 L424.41,218.20 L425.20,218.20 L425.99,218.19 L426.78,218.18 L427.57,218.17 L428.36,218.17 L429.15,218.16 L429.94,218.15 L430.73,218.15 L431.52,218.14 L432.31,218.13 L433.10,218.13 L433.89,218.12 L434.68,218.11 L435.47,218.11 L436.26,218.10 L437.05,218.10 L437.84,218.09 L438.63,218.08 L439.42,218.08 L440.21,218.07 L441.00,218.07 L441.79,218.06 L442.58,218.05 L443.36,218.05 L444.15,218.04 L444.94,218.04 L445.73,218.03 L446.52,218.03 L447.31,218.02 L448.10,218.02 L448.89,218.01 L449.68,218.01 L450.47,218.00 L451.26,218.00 L452.05,217.99 L452.84,217.99 L453.63,217.98 L454.42,217.98 L455.21,217.97 L456.00,217.97 L456.79,217.97 L457.58,217.96 L458.37,217.96 L459.16,217.95 L459.95,217.95 L460.74,217.94 L461.53,217.94 L462.32,217.94 L463.11,217.93 L463.90,217.93 L464.69,217.92 L465.48,217.92 L466.27,217.92 L467.06,217.91 L467.85,217.91 L468.64,217.91 L469.42,217.90 L470.21,217.90 L471.00,217.90 L471.79,217.89 L472.58,217.89 L473.37,217.89 L474.16,217.88 L474.95,217.88 L475.74,217.88 L476.53,217.88 L477.32,217.87 L478.11,217.87 L478.90,217.87 L479.69,217.86 L480.48,217.86 L481.27,217.86 L482.06,217.86 L482.85,217.85 L483.64,217.85 L484.43,217.85 L485.22,217.85 L486.01,217.84 L486.80,217.84 L487.59,217.84 L488.38,217.84 L489.17,217.84 L489.96,217.83 L490.75,217.83 L491.54,217.83 L492.33,217.83 L493.12,217.83 L493.91,217.82 L494.70,217.82 L495.48,217.82 L496.27,217.82 L497.06,217.82 L497.85,217.82 L498.64,217.81 L499.43,217.81 L500.22,217.81 L501.01,217.81 L501.80,217.81 L502.59,217.81 L503.38,217.81 L504.17,217.80 L504.96,217.80 L505.75,217.80 L506.54,217.80 L507.33,217.80 L508.12,217.80 L508.91,217.80 L509.70,217.80 L510.49,217.79 L511.28,217.79 L512.07,217.79 L512.86,217.79 L513.65,217.79 L514.44,217.79 L515.23,217.79 L516.02,217.79 L516.81,217.79 L517.60,217.79 L518.39,217.79 L519.18,217.79 L519.97,217.79 L520.76,217.78 L521.55,217.78 L522.33,217.78 L523.12,217.78 L523.91,217.78 L524.70,217.78 L525.49,217.78 L526.28,217.78 L527.07,217.78 L527.86,217.78 L528.65,217.78 L529.44,217.78 L530.23,217.78 L531.02,217.78 L531.81,217.78 L532.60,217.78 L533.39,217.78 L534.18,217.78 L534.97,217.78 L535.76,217.78 L536.55,217.78 L537.34,217.78 L538.13,217.78 L538.92,217.78 L539.71,217.78 L540.50,217.78 L541.29,217.78 L542.08,217.78 L542.87,217.78 L543.66,217.78 L544.45,217.78 L545.24,217.78 L546.03,217.78 L546.82,217.78 L547.61,217.78 L548.39,217.78 L549.18,217.78 L549.97,217.78 L550.76,217.78 L551.55,217.78 L552.34,217.78 L553.13,217.78 L553.92,217.78 L554.71,217.78 L555.50,217.78 L556.29,217.78 L557.08,217.78 L557.87,217.78 L558.66,217.78 L559.45,217.78 L560.24,217.78 L561.03,217.78 L561.82,217.78 L562.61,217.78 L563.40,217.78 L564.19,217.78 L564.98,217.78 L565.77,217.78 L566.56,217.78 L567.35,217.78 L568.14,217.78 L568.93,217.78 L569.72,217.78 L570.51,217.78 L571.30,217.78 L572.09,217.78 L572.88,217.78 L573.67,217.78 L574.45,217.78 L575.24,217.78 L576.03,217.78 L576.82,217.78 L577.61,217.78 L578.40,217.78 L579.19,217.78 L579.98,217.78 L580.77,217.78 L581.56,217.78 L582.35,217.78 L583.14,217.78 L583.93,217.79 L584.72,217.79 L585.51,217.79 L586.30,217.79 L587.09,217.79 L587.88,217.79 L588.67,217.79 L589.46,217.79 L590.25,217.79 L591.04,217.79 L591.83,217.79 L592.62,217.79 L593.41,217.79 L594.20,217.79 L594.99,217.79 L595.78,217.79 L596.57,217.79 L597.36,217.79 L598.15,217.79 L598.94,217.79 L599.73,217.79 L600.52,217.79 L601.30,217.78 L602.09,217.78 L602.88,217.78 L603.67,217.78 L604.46,217.78 L605.25,217.78 L606.04,217.78 L606.83,217.78 L607.62,217.78 L608.41,217.78 L609.20,217.78 L609.99,217.78 L610.78,217.78 L611.57,217.78 L612.36,217.78 L613.15,217.78 L613.94,217.78 L614.73,217.78 L615.52,217.78 L616.31,217.78 L617.10,217.78 L617.89,217.78 L618.68,217.78 L619.47,217.77 L620.26,217.77 L621.05,217.77 L621.84,217.77 L622.63,217.77 L623.42,217.77 L624.21,217.77 L625.00,217.77 L625.79,217.77 L626.58,217.77 L627.36,217.77 L628.15,217.76 L628.94,217.76 L629.73,217.76 L630.52,217.76 L631.31,217.76 L632.10,217.76 L632.89,217.76 L633.68,217.76 L634.47,217.76 L635.26,217.75 L636.05,217.75 L636.84,217.75 L637.63,217.75 L638.42,217.75 L639.21,217.75 L640.00,217.74" stroke="#0000ff"/>
<path d="M88.00,217.70 L88.79,217.70 L89.58,217.70 L90.37,217.70 L91.16,217.70 L91.96,217.70 L92.75,217.70 L93.54,217.70 L94.33,217.70 L95.12,217.70 L95.91,217.70 L96.70,217.70 L97.49,217.70 L98.28,217.70 L99.08,217.70 L99.87,217.70 L100.66,217.70 L101.45,217.70 L102.24,217.70 L103.03,217.70 L103.82,217.70 L104.61,217.70 L105.40,217.70 L106.20,217.70 L106.99,217.70 L107.78,217.70 L108.57,217.70 L109.36,217.70 L110.15,217.70 L110.94,217.70 L111.73,217.70 L112.53,217.71 L113.32,217.71 L114.11,217.71 L114.90,217.71 L115.69,217.71 L116.48,217.71 L117.27,217.71 L118.06,217.71 L118.85,217.71 L119.65,217.71 L120.44,217.71 L121.23,217.71 L122.02,217.71 L122.81,217.71 L123.60,217.71 L124.39,217.71 L125.18,217.70 L125.97,217.70 L126.77,217.70 L127.56,217.70 L128.35,217.70 L129.14,217.70 L129.93,217.70 L130.72,217.70 L131.51,217.70 L132.30,217.70 L133.09,217.70 L133.89,217.69 L134.68,217.69 L135.47,217.69 L136.26,217.69 L137.05,217.69 L137.84,217.69 L138.63,217.69 L139.42,217.69 L140.21,217.69 L141.01,217.69 L141.80,217.69 L142.59,217.69 L143.38,217.68 L144.17,217.68 L144.96,217.68 L145.75,217.68 L146.54,217.68 L147.33,217.68 L148.13,217.68 L148.92,217.68 L149.71,217.68 L150.50,217.68 L151.29,217.69 L152.08,217.69 L152.87,217.69 L153.66,217.69 L154.45,217.69 L155.25,217.69 L156.04,217.69 L156.83,217.69 L157.62,217.70 L158.41,217.70 L159.20,217.70 L159.99,217.70 L160.78,217.71 L161.58,217.71 L162.37,217.71 L163.16,217.71 L163.95,217.72 L164.74,217.72 L165.53,217.72 L166.32,217.73 L167.11,217.73 L167.90,217.73 L168.70,217.73 L169.49,217.74 L170.28,217.74 L171.07,217.74 L171.86,217.74 L172.65,217.74 L173.44,217.75 L174.23,217.75 L175.02,217.75 L175.82,217.75 L176.61,217.75 L177.40,217.74 L178.19,217.74 L178.98,217.74 L179.77,217.73 L180.56,217.73 L181.35,217.72 L182.14,217.72 L182.94,217.71 L183.73,217.70 L184.52,217.69 L185.31,217.68 L186.10,217.67 L186.89,217.66 L187.68,217.65 L188.47,217.63 L189.26,217.62 L190.06,217.60 L190.85,217.58 L191.64,217.56 L192.43,217.54 L193.22,217.52 L194.01,217.50 L194.80,217.47 L195.59,217.44 L196.38,217.41 L197.18,217.38 L197.97,217.35 L198.76,217.32 L199.55,217.28 L200.34,217.24 L201.13,217.21 L201.92,217.16 L202.71,217.12 L203.51,217.08 L204.30,217.03 L205.09,216.98 L205.88,216.93 L206.67,216.88 L207.46,216.83 L208.25,216.77 L209.04,216.72 L209.83,216.66 L210.63,216.61 L211.42,216.55 L212.21,216.50 L213.00,216.44 L213.79,216.39 L214.58,216.33 L215.37,216.28 L216.16,216.22 L216.95,216.17 L217.75,216.12 L218.54,216.07 L219.33,216.02 L220.12,215.98 L220.91,215.93 L221.70,215.89 L222.49,215.85 L223.28,215.82 L224.07,215.78 L224.87,215.75 L225.66,215.72 L226.45,215.70 L227.24,215.67 L228.03,215.65 L228.82,215.64 L229.61,215.62 L230.40,215.61 L231.19,215.60 L231.99,215.60 L232.78,215.59 L233.57,215.59 L234.36,215.59 L235.15,215.59 L235.94,215.59 L236.73,215.59 L237.52,215.60 L238.31,215.60 L239.11,215.61 L239.90,215.62 L240.69,215.63 L241.48,215.64 L242.27,215.65 L243.06,215.66 L243.85,215.68 L244.64,215.69 L245.43,215.70 L246.23,215.71 L247.02,215.73 L247.81,215.74 L248.60,215.76 L249.39,215.77 L250.18,215.79 L250.97,215.80 L251.76,215.82 L252.56,215.83 L253.35,215.85 L254.14,215.87 L254.93,215.88 L255.72,215.90 L256.51,215.92 L257.30,215.94 L258.09,215.95 L258.88,215.97 L259.68,215.99 L260.47,216.01 L261.26,216.02 L262.05,216.04 L262.84,216.06 L263.63,216.08 L264.42,216.10 L265.21,216.12 L266.00,216.14 L266.80,216.16 L267.59,216.18 L268.38,216.19 L269.17,216.21 L269.96,216.23 L270.75,216.25 L271.54,216.27 L272.33,216.29 L273.12,216.31 L273.92,216.33 L274.71,216.35 L275.50,216.37 L276.29,216.39 L277.08,216.41 L277.87,216.43 L278.66,216.45 L279.45,216.47 L280.24,216.49 L281.04,216.51 L281.83,216.52 L282.62,216.54 L283.41,216.56 L284.20,216.58 L284.99,216.60 L285.78,216.62 L286.57,216.64 L287.36,216.65 L288.16,216.67 L288.95,216.69 L289.74,216.71 L290.53,216.73 L291.32,216.74 L292.11,216.76 L292.90,216.78 L293.69,216.79 L294.48,216.81 L295.28,216.83 L296.07,216.84 L296.86,216.86 L297.65,216.87 L298.44,216.89 L299.23,216.90 L300.02,216.92 L300.81,216.94 L301.61,216.95 L302.40,216.97 L303.19,216.98 L303.98,216.99 L304.77,217.01 L305.56,217.02 L306.35,217.04 L307.14,217.05 L307.93,217.06 L308.73,217.08 L309.52,217.09 L310.31,217.10 L311.10,217.12 L311.89,217.13 L312.68,217.14 L313.47,217.16 L314.26,217.17 L315.05,217.18 L315.85,217.19 L316.64,217.20 L317.43,217.22 L318.22,217.23 L319.01,217.24 L319.80,217.25 L320.59,217.26 L321.38,217.27 L322.17,217.28 L322.97,217.29 L323.76,217.30 L324.55,217.32 L325.34,217.33 L326.13,217.34 L326.92,217.35 L327.71,217.36 L328.50,217.37 L329.29,217.37 L330.09,217.38 L330.88,217.39 L331.67,217.40 L332.46,217.41 L333.25,217.42 L334.04,217.43 L334.83,217.44 L335.62,217.45 L336.41,217.46 L337.21,217.46 L338.00,217.47 L338.79,217.48 L339.58,217.49 L340.37,217.50 L341.16,217.50 L341.95,217.51 L342.74,217.52 L343.54,217.53 L344.33,217.53 L345.12,217.54 L345.91,217.55 L346.70,217.55 L347.49,217.56 L348.28,217.57 L349.07,217.57 L349.86,217.58 L350.66,217.59 L351.45,217.59 L352.24,217.60 L353.03,217.60 L353.82,217.61 L354.61,217.61 L355.40,217.62 L356.19,217.63 L356.98,217.63 L357.78,217.64 L358.57,217.64 L359.36,217.65 L360.15,217.65 L360.94,217.66 L361.73,217.66 L362.52,217.67 L363.31,217.67 L364.10,217.67 L364.90,217.68 L365.69,217.68 L366.48,217.69 L367.27,217.69 L368.06,217.69 L368.85,217.70 L369.64,217.70 L370.43,217.71 L371.22,217.71 L372.02,217.71 L372.81,217.72 L373.60,217.72 L374.39,217.72 L375.18,217.72 L375.97,217.73 L376.76,217.73 L377.55,217.73 L378.34,217.74 L379.14,217.74 L379.93,217.74 L380.72,217.74 L381.51,217.75 L382.30,217.75 L383.09,217.75 L383.88,217.75 L384.67,217.75 L385.46,217.76 L386.26,217.76 L387.05,217.76 L387.84,217.76 L388.63,217.76 L389.42,217.76 L390.21,217.77 L391.00,217.77 L391.79,217.77 L392.59,217.77 L393.38,217.77 L394.17,217.77 L394.96,217.77 L395.75,217.77 L396.54,217.78 L397.33,217.78 L398.12,217.78 L398.91,217.78 L399.71,217.78 L400.50,217.78 L401.29,217.78 L402.08,217.78 L402.87,217.78 L403.66,217.78 L404.45,217.78 L405.24,217.78 L406.03,217.78 L406.83,217.78 L407.62,217.78 L408.41,217.78 L409.20,217.78 L409.99,217.78 L410.78,217.78 L411.57,217.78 L412.36,217.78 L413.15,217.78 L413.95,217.78 L414.74,217.78 L415.53,217.78 L416.32,217.78 L417.11,217.78 L417.90,217.78 L418.69,217.78 L419.48,217.78 L420.27,217.77 L421.07,217.77 L421.86,217.77 L422.65,217.77 L423.44,217.77 L424.23,217.77 L425.02,217.77 L425.81,217.77 L426.60,217.77 L427.39,217.77 L428.19,217.77 L428.98,217.76 L429.77,217.76 L430.56,217.76 L431.35,217.76 L432.14,217.76 L432.93,217.76 L433.72,217.76 L434.52,217.76 L435.31,217.75 L436.10,217.75 L436.89,217.75 L437.68,217.75 L438.47,217.75 L439.26,217.75 L440.05,217.74 L440.84,217.74 L441.64,217.74 L442.43,217.74 L443.22,217.74 L444.01,217.74 L444.80,217.74 L445.59,217.73 L446.38,217.73 L447.17,217.73 L447.96,217.73 L448.76,217.73 L449.55,217.72 L450.34,217.72 L451.13,217.72 L451.92,217.72 L452.71,217.72 L453.50,217.72 L454.29,217.71 L455.08,217.71 L455.88,217.71 L456.67,217.71 L457.46,217.71 L458.25,217.71 L459.04,217.70 L459.83,217.70 L460.62,217.70 L461.41,217.70 L462.20,217.70 L463.00,217.69 L463.79,217.69 L464.58,217.69 L465.37,217.69 L466.16,217.69 L466.95,217.69 L467.74,217.68 L468.53,217.68 L469.32,217.68 L470.12,217.68 L470.91,217.68 L471.70,217.67 L472.49,217.67 L473.28,217.67 L474.07,217.67 L474.86,217.67 L475.65,217.67 L476.44,217.66 L477.24,217.66 L478.03,217.66 L478.82,217.66 L479.61,217.66 L480.40,217.66 L481.19,217.66 L481.98,217.65 L482.77,217.65 L483.57,217.65 L484.36,217.65 L485.15,217.65 L485.94,217.65 L486.73,217.65 L487.52,217.64 L488.31,217.64 L489.10,217.64 L489.89,217.64 L490.69,217.64 L491.48,217.64 L492.27,217.64 L493.06,217.64 L493.85,217.63 L494.64,217.63 L495.43,217.63 L496.22,217.63 L497.01,217.63 L497.81,217.63 L498.60,217.63 L499.39,217.63 L500.18,217.63 L500.97,217.63 L501.76,217.63 L502.55,217.62 L503.34,217.62 L504.13,217.62 L504.93,217.62 L505.72,217.62 L506.51,217.62 L507.30,217.62 L508.09,217.62 L508.88,217.62 L509.67,217.62 L510.46,217.62 L511.25,217.62 L512.05,217.62 L512.84,217.62 L513.63,217.62 L514.42,217.62 L515.21,217.62 L516.00,217.62 L516.79,217.62 L517.58,217.62 L518.37,217.62 L519.17,217.62 L519.96,217.62 L520.75,217.62 L521.54,217.62 L522.33,217.63 L523.12,217.63 L523.91,217.63 L524.70,217.63 L525.49,217.63 L526.29,217.63 L527.08,217.63 L527.87,217.63 L528.66,217.63 L529.45,217.63 L530.24,217.63 L531.03,217.64 L531.82,217.64 L532.62,217.64 L533.41,217.64 L534.20,217.64 L534.99,217.64 L535.78,217.64 L536.57,217.64 L537.36,217.65 L538.15,217.65 L538.94,217.65 L539.74,217.65 L540.53,217.65 L541.32,217.65 L542.11,217.65 L542.90,217.66 L543.69,217.66 L544.48,217.66 L545.27,217.66 L546.06,217.66 L546.86,217.66 L547.65,217.67 L548.44,217.67 L549.23,217.67 L550.02,217.67 L550.81,217.67 L551.60,217.68 L552.39,217.68 L553.18,217.68 L553.98,217.68 L554.77,217.68 L555.56,217.68 L556.35,217.69 L557.14,217.69 L557.93,217.69 L558.72,217.69 L559.51,217.69 L560.30,217.69 L561.10,217.70 L561.89,217.70 L562.68,217.70 L563.47,217.70 L564.26,217.70 L565.05,217.71 L565.84,217.71 L566.63,217.71 L567.42,217.71 L568.22,217.71 L569.01,217.71 L569.80,217.72 L570.59,217.72 L571.38,217.72 L572.17,217.72 L572.96,217.72 L573.75,217.72 L574.55,217.73 L575.34,217.73 L576.13,217.73 L576.92,217.73 L577.71,217.73 L578.50,217.73 L579.29,217.74 L580.08,217.74 L580.87,217.74 L581.67,217.74 L582.46,217.74 L583.25,217.74 L584.04,217.74 L584.83,217.75 L585.62,217.75 L586.41,217.75 L587.20,217.75 L587.99,217.75 L588.79,217.75 L589.58,217.75 L590.37,217.75 L591.16,217.75 L591.95,217.76 L592.74,217.76 L593.53,217.76 L594.32,217.76 L595.11,217.76 L595.91,217.76 L596.70,217.76 L597.49,217.76 L598.28,217.76 L599.07,217.76 L599.86,217.76 L600.65,217.76 L601.44,217.76 L602.23,217.76 L603.03,217.76 L603.82,217.76 L604.61,217.76 L605.40,217.76 L606.19,217.76 L606.98,217.76 L607.77,217.76 L608.56,217.76 L609.35,217.76 L610.15,217.76 L610.94,217.76 L611.73,217.76 L612.52,217.76 L613.31,217.76 L614.10,217.76 L614.89,217.76 L615.68,217.76 L616.47,217.76 L617.27,217.76 L618.06,217.76 L618.85,217.76 L619.64,217.76 L620.43,217.75 L621.22,217.75 L622.01,217.75 L622.80,217.75 L623.60,217.75 L624.39,217.75 L625.18,217.75 L625.97,217.74 L626.76,217.74 L627.55,217.74 L628.34,217.74 L629.13,217.74 L629.92,217.73 L630.72,217.73 L631.51,217.73 L632.30,217.73 L633.09,217.72 L633.88,217.72 L634.67,217.72 L635.46,217.71 L636.25,217.71 L637.04,217.71 L637.84,217.71 L638.63,217.70 L639.42,217.70 L640.21,217.70 L641.00,217.69" stroke="#00ff00"/>
</g>
<line x1="76.87" y1="217.65" x2="652.5" y2="217.65" stroke="#0a0a0a" stroke-width="1.2"/>
<g stroke="#666666" fill="none" stroke-linecap="square"><line x1="76.87" y1="1.45" x2="652.5" y2="1.45" stroke-width="0.68"/><line x1="76.87" y1="1.5" x2="76.87" y2="356.5" stroke-width="0.78"/><line x1="76.87" y1="356.5" x2="652.5" y2="356.5" stroke-width="0.6"/><line x1="652.5" y1="1.5" x2="652.5" y2="356.5" stroke-width="0.45"/></g>
<path d="M88.50,356.5v-4.3M88.50,1.5v4.3M124.25,356.5v-2.5M124.25,1.5v2.5M160.00,356.5v-2.5M160.00,1.5v2.5M195.75,356.5v-2.5M195.75,1.5v2.5M231.50,356.5v-4.3M231.50,1.5v4.3M267.25,356.5v-2.5M267.25,1.5v2.5M303.00,356.5v-2.5M303.00,1.5v2.5M338.75,356.5v-2.5M338.75,1.5v2.5M374.50,356.5v-4.3M374.50,1.5v4.3M410.25,356.5v-2.5M410.25,1.5v2.5M446.00,356.5v-2.5M446.00,1.5v2.5M481.75,356.5v-2.5M481.75,1.5v2.5M517.50,356.5v-4.3M517.50,1.5v4.3M553.25,356.5v-2.5M553.25,1.5v2.5M589.00,356.5v-2.5M589.00,1.5v2.5M624.75,356.5v-2.5M624.75,1.5v2.5M76.87,348.80h2.5M652.5,348.80h-2.5M76.87,334.20h2.5M652.5,334.20h-2.5M76.87,319.61h2.5M652.5,319.61h-2.5M76.87,305.01h2.5M652.5,305.01h-2.5M76.87,290.42h4.3M652.5,290.42h-4.3M76.87,275.83h2.5M652.5,275.83h-2.5M76.87,261.23h2.5M652.5,261.23h-2.5M76.87,246.64h2.5M652.5,246.64h-2.5M76.87,232.04h2.5M652.5,232.04h-2.5M76.87,217.45h4.3M652.5,217.45h-4.3M76.87,202.86h2.5M652.5,202.86h-2.5M76.87,188.26h2.5M652.5,188.26h-2.5M76.87,173.67h2.5M652.5,173.67h-2.5M76.87,159.07h2.5M652.5,159.07h-2.5M76.87,144.48h4.3M652.5,144.48h-4.3M76.87,129.89h2.5M652.5,129.89h-2.5M76.87,115.29h2.5M652.5,115.29h-2.5M76.87,100.70h2.5M652.5,100.70h-2.5M76.87,86.10h2.5M652.5,86.10h-2.5M76.87,71.51h4.3M652.5,71.51h-4.3M76.87,56.92h2.5M652.5,56.92h-2.5M76.87,42.32h2.5M652.5,42.32h-2.5M76.87,27.73h2.5M652.5,27.73h-2.5M76.87,13.13h2.5M652.5,13.13h-2.5" stroke="#505050" stroke-width="0.7" fill="none"/>
<g font-family="Liberation Sans, sans-serif" fill="#000">
<g transform="translate(88.05,382.30)" stroke="#000" stroke-width="0.45"><text transform="translate(-7.43,0.00) scale(0.94,1)" font-size="26.7px" x="0.00" y="0">0</text></g>
<g transform="translate(231.05,382.30)" stroke="#000" stroke-width="0.45"><text transform="translate(-14.86,0.00) scale(0.94,1)" font-size="26.7px" x="0.00 15.81" y="0">20</text></g>
<g transform="translate(374.05,382.30)" stroke="#000" stroke-width="0.45"><text transform="translate(-14.86,0.00) scale(0.94,1)" font-size="26.7px" x="0.00 15.81" y="0">40</text></g>
<g transform="translate(517.05,382.30)" stroke="#000" stroke-width="0.45"><text transform="translate(-14.86,0.00) scale(0.94,1)" font-size="26.7px" x="0.00 15.81" y="0">60</text></g>
<g transform="translate(73.00,79.51)" stroke="#000" stroke-width="0.45"><text transform="translate(-13.96,0.00) scale(0.94,1)" font-size="26.7px" x="0.00" y="0">2</text></g>
<g transform="translate(73.00,152.48)" stroke="#000" stroke-width="0.45"><text transform="translate(-13.16,0.00) scale(0.94,1)" font-size="26.7px" x="0.00" y="0" clip-path="url(#c1_26_7)">1</text></g>
<g transform="translate(73.00,225.45)" stroke="#000" stroke-width="0.45"><text transform="translate(-13.96,0.00) scale(0.94,1)" font-size="26.7px" x="0.00" y="0">0</text></g>
<g transform="translate(73.00,298.42)" stroke="#000" stroke-width="0.45"><text transform="translate(-13.16,0.00) scale(0.94,1)" font-size="26.7px" x="0.00" y="0" clip-path="url(#c1_26_7)">1</text></g>
<g transform="translate(42.80,299.82)" stroke="#000" stroke-width="0.45"><text transform="translate(0.00,0.00) scale(0.94,1)" font-size="26.7px" x="0.00" y="0">−</text></g>
<g transform="translate(364.00,417.80)" stroke="#000" stroke-width="0.4"><text transform="translate(-31.90,0.00) scale(1.048,1)" font-size="25.5px" font-style="italic" x="0.00 8.49 15.58 24.07 31.15 52.39" y="0">r (fm)</text></g>
<g transform="translate(26.30,224.60) rotate(-90)" stroke="#000" stroke-width="0.45"><text transform="translate(0.00,0.00) scale(1.0,1)" font-size="24.6px" font-style="italic" x="0.00" y="0">j</text><text transform="translate(6.47,5.00) scale(0.965,1)" font-size="18.2px" x="0.00 4.04 14.17 18.21 23.27" y="0">init,</text><text transform="translate(33.80,5.00) scale(0.965,1)" font-size="18.2px" font-style="italic" x="0.00" y="0">n</text><text transform="translate(44.06,0.00) scale(0.94,1)" font-size="26.7px" x="0.00" y="0">×</text><text transform="translate(59.52,0.00) scale(0.94,1)" font-size="26.7px" x="0.00" y="0" clip-path="url(#c1_26_7)">1</text><text transform="translate(72.68,0.00) scale(0.94,1)" font-size="26.7px" x="0.00" y="0">0</text><text transform="translate(87.54,-12.00) scale(0.84,1)" font-size="18.6px" x="0.00" y="0">4</text></g>
<line x1="500.6" y1="35.72" x2="522.1" y2="35.72" stroke="#000000" stroke-width="2.0"/>
<g transform="translate(527.90,39.20)" stroke="#000" stroke-width="0.45"><text transform="translate(0.00,0.00) scale(1.0,1)" font-size="24.6px" x="0.00" y="0">j</text><text transform="translate(5.97,5.00) scale(1.0,1)" font-size="18.2px" x="0.00 4.04 14.17 18.21 23.27" y="0">init,</text><text transform="translate(34.83,5.00) scale(1.0,1)" font-size="18.2px" x="0.00" y="0" clip-path="url(#c1_18_2)">1</text></g>
<line x1="500.6" y1="72.17" x2="522.1" y2="72.17" stroke="#ff0000" stroke-width="2.0"/>
<g transform="translate(527.90,75.65)" stroke="#000" stroke-width="0.45"><text transform="translate(0.00,0.00) scale(1.0,1)" font-size="24.6px" x="0.00" y="0">j</text><text transform="translate(5.97,5.00) scale(1.0,1)" font-size="18.2px" x="0.00 4.04 14.17 18.21 23.27 28.32" y="0">init,3</text></g>
<line x1="500.6" y1="108.62" x2="522.1" y2="108.62" stroke="#ff8000" stroke-width="2.0"/>
<g transform="translate(527.90,112.10)" stroke="#000" stroke-width="0.45"><text transform="translate(0.00,0.00) scale(1.0,1)" font-size="24.6px" x="0.00" y="0">j</text><text transform="translate(5.97,5.00) scale(1.0,1)" font-size="18.2px" x="0.00 4.04 14.17 18.21 23.27 28.32" y="0">init,5</text></g>
<line x1="500.6" y1="145.07" x2="522.1" y2="145.07" stroke="#0000ff" stroke-width="2.0"/>
<g transform="translate(527.90,148.55)" stroke="#000" stroke-width="0.45"><text transform="translate(0.00,0.00) scale(1.0,1)" font-size="24.6px" x="0.00" y="0">j</text><text transform="translate(5.97,5.00) scale(1.0,1)" font-size="18.2px" x="0.00 4.04 14.17 18.21 23.27 28.32" y="0">init,7</text></g>
<line x1="500.6" y1="181.52" x2="522.1" y2="181.52" stroke="#00ff00" stroke-width="2.0"/>
<g transform="translate(527.90,185.00)" stroke="#000" stroke-width="0.45"><text transform="translate(0.00,0.00) scale(1.0,1)" font-size="24.6px" x="0.00" y="0">j</text><text transform="translate(5.97,5.00) scale(1.0,1)" font-size="18.2px" x="0.00 4.04 14.17 18.21 23.27 28.32" y="0">init,9</text></g>
</g>
</svg>
</body></html>
